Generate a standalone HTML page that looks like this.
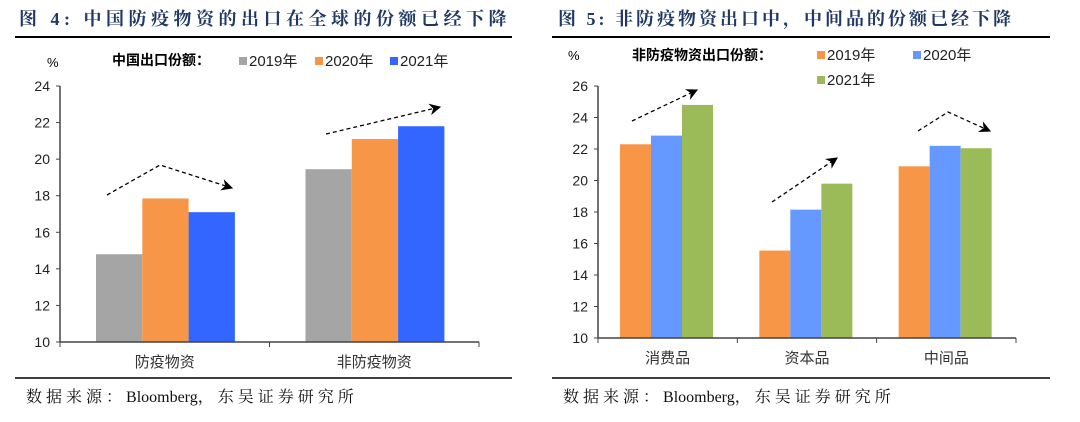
<!DOCTYPE html>
<html><head><meta charset="utf-8">
<style>
body{margin:0;background:#fff;width:1080px;height:417px;overflow:hidden;}
svg text{font-family:"Liberation Sans","Noto Sans CJK SC",sans-serif;}
.t{font-family:"Liberation Serif","Noto Serif CJK SC",serif;font-weight:bold;fill:#1f3864;font-size:18px;}
.f{font-family:"Liberation Serif","Noto Serif CJK SC",serif;font-size:16px;fill:#111;letter-spacing:4px;}
.f tspan.l{letter-spacing:0;}
</style></head><body>
<svg id="s" width="1080" height="417">
<defs><marker id="ah" viewBox="0 0 10 10" refX="9" refY="5" markerWidth="9" markerHeight="9" orient="auto"><path d="M0,0L10,5L0,10L3,5z" fill="#000"/></marker></defs>
<text class="t" x="19" y="25" letter-spacing="4.5">图 4:  中国防疫物资的出口在全球的份额已经下降</text>
<line x1="15" y1="37" x2="512" y2="37" stroke="#000" stroke-width="2"/>
<text class="t" x="558" y="25" letter-spacing="3">图 5:  非防疫物资出口中，中间品的份额已经下降</text>
<line x1="552" y1="37" x2="1050" y2="37" stroke="#000" stroke-width="2"/>
<line x1="15" y1="378" x2="512" y2="378" stroke="#000" stroke-width="1.5"/>
<line x1="552" y1="378" x2="1050" y2="378" stroke="#000" stroke-width="1.5"/>
<text class="f" x="26" y="402">数据来源：<tspan class="l">Bloomberg</tspan>，东吴证券研究所</text>
<text class="f" x="563" y="402">数据来源：<tspan class="l">Bloomberg</tspan>，东吴证券研究所</text>
<text x="47" y="67" font-size="13">%</text>
<text x="112" y="65" font-size="14" font-weight="bold">中国出口份额：</text>
<text x="568" y="60" font-size="13">%</text>
<text x="632" y="60" font-size="14" font-weight="bold">非防疫物资出口份额：</text>
<g stroke="#000" stroke-width="1.3" stroke-dasharray="4,3" fill="none" marker-end="url(#ah)">
<polyline points="107,195 160,165 232,188"/>
<polyline points="326,134 440,107"/>
<polyline points="632,121 697,90"/>
<polyline points="772,202 837,158"/>
<polyline points="918,131 948,112 990,131"/>
</g>
</svg>
<script>
const leftCats=["防疫物资","非防疫物资"];
const leftSeries=["2019年","2020年","2021年"];
const leftVals=[[14.8,19.45],[17.85,21.1],[17.1,21.8]];
const leftTicks=[10,12,14,16,18,20,22,24];
const rightCats=["消费品","资本品","中间品"];
const rightSeries=["2019年","2020年","2021年"];
const rightVals=[[22.3,15.55,20.9],[22.85,18.15,22.2],[24.8,19.8,22.05]];
const rightTicks=[10,12,14,16,18,20,22,24,26];
const NS="http://www.w3.org/2000/svg";
const svg=document.getElementById('s');
function mk(t,a,txt){const e=document.createElementNS(NS,t);for(const k in a)e.setAttribute(k,a[k]);if(txt!=null)e.textContent=txt;svg.appendChild(e);return e;}
function chart(o){
 const y=v=>o.y0-(v-o.min)/(o.max-o.min)*(o.y0-o.y1);
 const gw=(o.x1-o.x0)/o.cats.length;
 o.vals.forEach((ser,si)=>ser.forEach((v,ci)=>{
  const x=o.x0+ci*gw+o.off+si*o.bw;
  const r=mk('rect',{x:x,y:y(v),width:o.bw,height:o.y0-y(v),fill:o.colors[si]});
  
  
 }));
 const ax=mk('line',{x1:o.x0,y1:o.y1,x2:o.x0,y2:o.y0,stroke:'#444','stroke-width':1.5});
 
 
 const xa=mk('line',{x1:o.x0,y1:o.y0,x2:o.x1,y2:o.y0,stroke:'#444','stroke-width':1.5});
 
 
 o.ticks.forEach(t=>{
  mk('line',{x1:o.x0-4,y1:y(t),x2:o.x0,y2:y(t),stroke:'#444'});
  const l=mk('text',{x:o.x0-10,y:y(t)+5,'font-size':14,'text-anchor':'end',fill:'#222'},t);
  
  
 });
 for(let i=0;i<=o.cats.length;i++)mk('line',{x1:o.x0+i*gw,y1:o.y0,x2:o.x0+i*gw,y2:o.y0+5,stroke:'#444'});
 o.cats.forEach((c,i)=>{
  const l=mk('text',{x:o.x0+(i+.5)*gw,y:o.y0+25,'font-size':15,'text-anchor':'middle',fill:'#333'},c);
  
  
 });
 o.series.forEach((s,i)=>{
  const [lx,ly]=o.leg[i];
  const r=mk('rect',{x:lx,y:ly-9,width:8,height:8,fill:o.colors[i]});
  
  
  const t=mk('text',{x:lx+10,y:ly,'font-size':15,fill:'#222'},s);
  
  
 });
}
chart({p:'left',cats:leftCats,series:leftSeries,vals:leftVals,ticks:leftTicks,min:10,max:24,x0:60,x1:479,y0:342,y1:86,off:36,bw:46.3,colors:['#a5a5a5','#f79646','#3366ff'],leg:[[239,66],[315,66],[390,66]]});
chart({p:'right',cats:rightCats,series:rightSeries,vals:rightVals,ticks:rightTicks,min:10,max:26,x0:598,x1:1016,y0:338,y1:86,off:22,bw:31,colors:['#f79646','#6699ff','#9bbb59'],leg:[[817,60],[913,60],[817,85]]});
</script>
</body></html>
